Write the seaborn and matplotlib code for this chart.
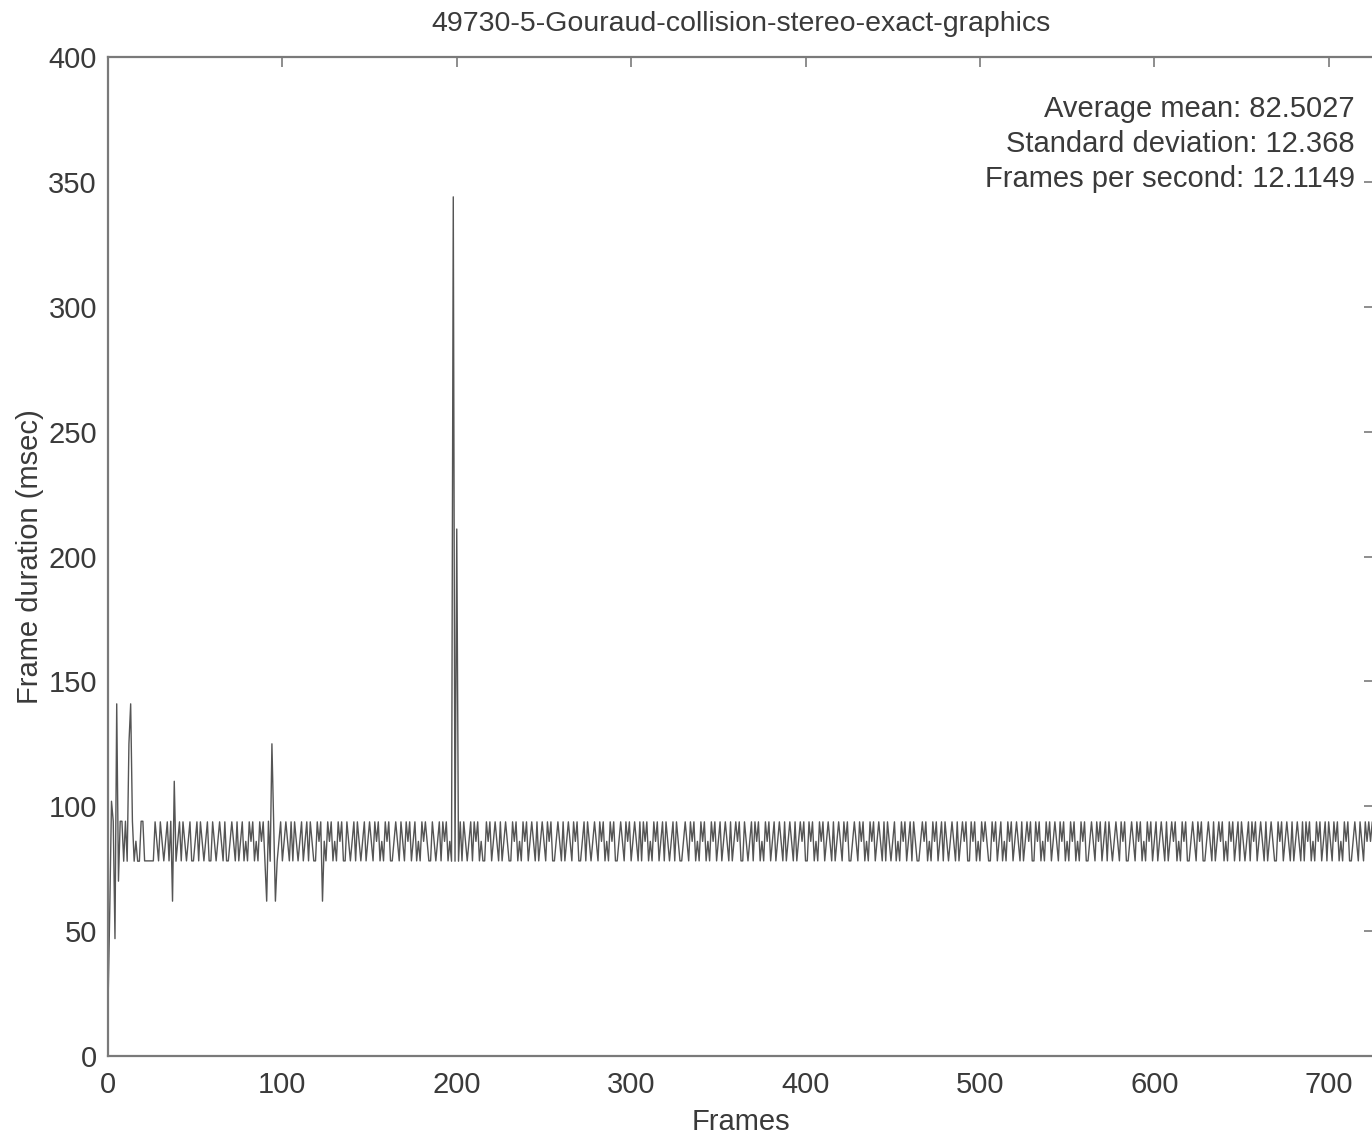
import numpy as np
import pandas as pd
import matplotlib
matplotlib.use("Agg")
import matplotlib.pyplot as plt
import seaborn as sns

# Frame timing levels (ms) reported by the timer: 10, 11 and 12 ticks of 1/128 s
level_codes = "abc"
level_ms = [78.125, 85.9375, 93.75]

# One code per frame
frame_codes = (
    "aaaaaaaaaaaaaaaaaaaaaaaaaaacbacbabcacbaabcacbabcaa"
    "bcacbabcaacbabcbacaabcbacabcabacbcabacbcaabcbacabc"
    "abcbacacbabcabcacbaacbcabacbcabacbcaacbabcacbabcab"
    "cbacbcabacbcaabcbacbacbcabcabacbcbaacbabcacbcabacb"
    "abcacbabcacbcabaacbcabcbacabcbaacbcabacbcabcbacabc"
    "bacbcaabcbacabcbacbcaabcacbabcbacbcabacbcaabcbacbc"
    "abcbacacbcabacbcabcacbabcacbaabcbacbcabacbcabacbca"
    "bcabcbacabcbcaacbabcacbcabacbcabcabcbacabcbacabcbc"
    "aacbcabacbcabcbacabcbacbcaabcbacbcabacbcabcbacacba"
    "bcabacbcabcacbaabcbcabacbcabcacbabcbacabcbcaacbcab"
    "acbcbaacbcabcabacbcabcbacabcbcaacbcabacbcabcbacbca"
    "bacbcabacbcaabcbacbcabcacbabcbacbcaabcbacbcabacbca"
    "bcabcbacabcbcabacbcaabcbacbcaabcbacabcbcabacbcabca"
    "cbabcacbcabcbacabcbaacbcabcbacabcbacacbcabacbcabca"
    "cbacbcabacbcaabcbacbacbcbca"
)

# Frames whose duration falls outside the three regular levels
spike_frames = [0, 1, 2, 3, 4, 5, 6, 7, 8, 9, 10, 11, 12, 13, 14, 15, 16, 17, 18, 19, 20,
                36, 37, 38, 39,
                91, 92, 93, 94, 95, 96, 97,
                123, 124,
                197, 198, 199, 200, 201]
spike_ms = [20, 58, 102, 94, 47, 141, 70, 94, 94, 78, 94, 78, 125, 141, 94, 78, 86, 78, 78, 94, 94,
            94, 62, 110, 78,
            62, 94, 78, 125, 94, 62, 78,
            62, 86,
            78, 344, 78, 211, 78]

title_text = "49730-5-Gouraud-collision-stereo-exact-graphics"
stats_lines = ["Average mean: 82.5027",
               "Standard deviation: 12.368",
               "Frames per second: 12.1149"]

durations = [level_ms[level_codes.index(c)] for c in frame_codes]
for f, v in zip(spike_frames, spike_ms):
    durations[f] = v
df = pd.DataFrame({"frame": np.arange(len(durations)), "duration": durations})

sns.set_theme(style="white")
plt.rcParams["font.family"] = ["Liberation Sans", "DejaVu Sans"]

text_col = "#3a3a3a"
axis_col = "#7a7a7a"

fig = plt.figure(figsize=(13.72, 11.34), dpi=100)
ax = fig.add_axes([108 / 1372, 78 / 1134, 1266 / 1372, 999 / 1134])

sns.lineplot(data=df, x="frame", y="duration", ax=ax, color="#555555",
             linewidth=1.0, estimator=None)

ax.set_xlim(0, len(durations) - 1)
ax.set_ylim(0, 400)
ax.set_xticks(np.arange(0, 701, 100))
ax.set_yticks(np.arange(0, 401, 50))

for sp in ax.spines.values():
    sp.set_visible(True)
    sp.set_color(axis_col)
    sp.set_linewidth(1.6)

ax.tick_params(axis="both", direction="in", length=7, width=1.2, color=axis_col,
               labelsize=21, labelcolor=text_col, top=True, right=True)
ax.tick_params(axis="x", pad=11)
ax.tick_params(axis="y", pad=8)

ax.set_xlabel("Frames", fontsize=21, color=text_col, labelpad=6)
ax.set_ylabel("Frame duration (msec)", fontsize=21, color=text_col, labelpad=3)
ax.set_title(title_text, fontsize=20.5, color=text_col, pad=19)

ax.text(0.985, 0.962, "\n".join(stats_lines), transform=ax.transAxes,
        ha="right", va="top", fontsize=21, color=text_col, linespacing=1.32)

fig.savefig("out.png", dpi=100)
